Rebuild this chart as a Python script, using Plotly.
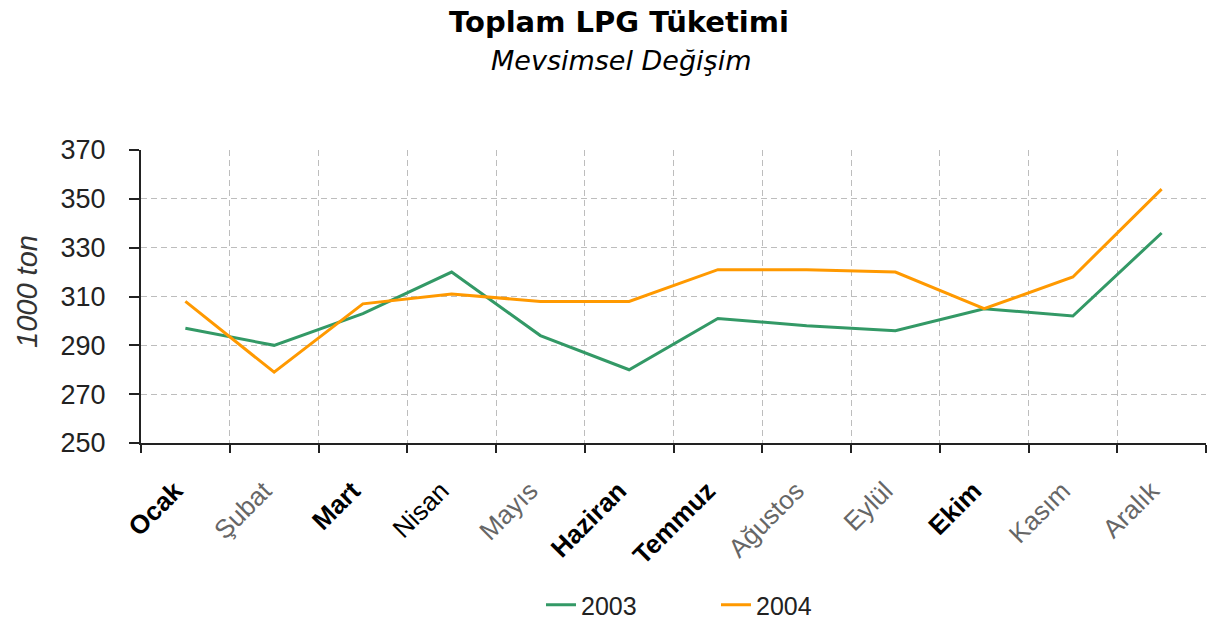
import plotly.graph_objects as go

# Monthly LPG consumption, thousand tonnes
months = ["Ocak", "Şubat", "Mart", "Nisan", "Mayıs", "Haziran",
          "Temmuz", "Ağustos", "Eylül", "Ekim", "Kasım", "Aralık"]
values_2003 = [297, 290, 303, 320, 294, 280, 301, 298, 296, 305, 302, 336]
values_2004 = [308, 279, 307, 311, 308, 308, 321, 321, 320, 305, 318, 354]
y_ticks = [250, 270, 290, 310, 330, 350, 370]

# label weight per month: "b" bold, "n" normal, "l" light
label_weight = ["b", "l", "b", "n", "l", "b", "b", "l", "l", "b", "l", "l"]

PAD = "&nbsp;" * 2  # trailing pad pulls the rotated labels down-left of the tick


def styled(name, w):
    if w == "b":
        return f"<b>{name}</b>{PAD}"
    if w == "l":
        return f'<span style="color:#666666">{name}</span>{PAD}'
    return f"{name}{PAD}"


tick_text = [styled(m, w) for m, w in zip(months, label_weight)]

fig = go.Figure()
fig.add_trace(go.Scatter(x=months, y=values_2003, mode="lines", name="2003",
                         line=dict(color="#339966", width=3)))
fig.add_trace(go.Scatter(x=months, y=values_2004, mode="lines", name="2004",
                         line=dict(color="#FF9900", width=3)))

font_main = "Liberation Sans, Arial, sans-serif"
font_title = "DejaVu Sans, Verdana, sans-serif"

fig.update_layout(
    width=1210, height=620,
    margin=dict(l=141, r=4, t=150, b=177, autoexpand=False),
    paper_bgcolor="white", plot_bgcolor="white",
    showlegend=True,
    title=dict(text="<b>Toplam LPG Tüketimi</b>",
               font=dict(family=font_title, size=29, color="black"),
               x=(619) / 1210, xref="container", xanchor="center",
               y=1 - 22 / 620, yref="container", yanchor="middle"),
    legend=dict(orientation="h", x=(716 - 141) / 1065, xanchor="center",
                y=(443 - 605) / 293, yanchor="middle",
                font=dict(family=font_main, size=25, color="#222222"),
                entrywidthmode="pixels", entrywidth=130, tracegroupgap=0),
    xaxis=dict(
        type="category", tickmode="array", tickvals=months, ticktext=tick_text,
        tickangle=-45, tickson="boundaries",
        ticks="outside", ticklen=8, tickcolor="#222222", tickwidth=1.5,
        ticklabelstandoff=10,
        showline=True, linecolor="#222222", linewidth=2,
        showgrid=True, gridcolor="#bdbdbd", gridwidth=1, griddash="6px,4px",
        tickfont=dict(family=font_main, size=26, color="black"),
        range=[-0.5, 11.5], automargin=False,
    ),
    yaxis=dict(
        range=[250, 370], tickmode="array", tickvals=y_ticks,
        ticks="outside", ticklen=10, tickcolor="#222222", tickwidth=1.5,
        ticklabelstandoff=18,
        showline=True, linecolor="#222222", linewidth=2,
        showgrid=True, gridcolor="#bdbdbd", gridwidth=1, griddash="6px,4px",
        tickfont=dict(family=font_main, size=27, color="#222222"),
        zeroline=False, automargin=False,
    ),
    annotations=[
        dict(text="<i>Mevsimsel Değişim</i>", xref="paper", yref="paper",
             x=(621 - 141) / 1065, y=(443 - 60) / 293,
             xanchor="center", yanchor="middle", showarrow=False,
             font=dict(family=font_title, size=27, color="black")),
        dict(text="<i>1000 ton</i>", xref="paper", yref="paper",
             x=(27 - 141) / 1065, y=(443 - 292) / 293, textangle=-90,
             xanchor="center", yanchor="middle", showarrow=False,
             font=dict(family=font_main, size=29, color="#333333")),
    ],
)

fig.write_html("out.html")
